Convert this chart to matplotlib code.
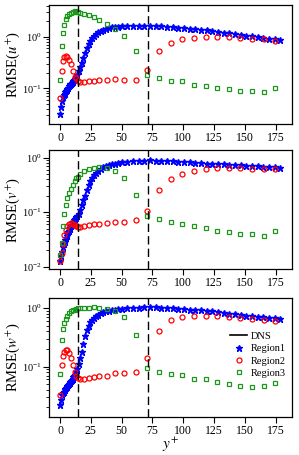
import matplotlib
matplotlib.use("Agg")
import matplotlib.pyplot as plt

plt.rcParams["font.family"] = ["Liberation Serif", "DejaVu Serif"]
plt.rcParams["mathtext.fontset"] = "stix"

# --- data ---
star_y = [0, 0.8, 1.6, 2.4, 3.0, 3.6, 4.2, 4.8, 5.4, 6.0, 6.6, 7.2, 7.8, 8.4, 9.0, 9.6,
          10.2, 10.8, 11.4, 12.0, 12.6, 13.3, 14.0, 15.0, 16.2, 17.5, 18.9, 20.3, 21.7,
          23.1, 24.5, 26.0, 27.6, 29.3, 31.1, 33.0, 35.0, 37.2, 39.5, 42.0, 44.6, 47.3,
          50.1, 54.6, 59.2, 63.8, 68.4, 73.0, 77.6, 82.2, 86.8, 91.4, 96.0, 100.6, 105.2,
          109.8, 114.4, 119.0, 123.6, 128.2, 132.8, 137.4, 142.0, 146.6, 151.2, 155.8,
          160.4, 165.0, 169.6, 174.2, 178.8]
region_y = [0, 1.4, 2.4, 3.4, 4.7, 6.0, 7.4, 8.8, 10.3, 11.8, 13.3, 14.8, 16.3, 19.5,
            23.4, 27.2, 32.0, 37.8, 44.4, 52.0, 61.5, 70.9, 80.4, 89.8, 99.3, 108.7,
            118.2, 127.6, 137.1, 146.5, 156.0, 165.4, 174.9]

u_region1 = [0.032, 0.044, 0.057, 0.067, 0.074, 0.079, 0.084, 0.089, 0.094, 0.099,
             0.104, 0.109, 0.114, 0.119, 0.124, 0.129, 0.134, 0.139, 0.144, 0.150,
             0.157, 0.166, 0.180, 0.215, 0.26, 0.31, 0.38, 0.48, 0.60, 0.72,
             0.84, 0.95, 1.05, 1.14, 1.22, 1.29, 1.35, 1.41, 1.46, 1.51, 1.54, 1.57, 1.59,
             1.60, 1.61, 1.62, 1.62, 1.61, 1.60, 1.58, 1.56, 1.53, 1.50,
             1.47, 1.44, 1.40, 1.36, 1.32, 1.28, 1.24, 1.20, 1.16, 1.12,
             1.08, 1.05, 1.01, 0.98, 0.95, 0.92, 0.90, 0.88]
u_region2 = [0.064, 0.22, 0.34, 0.40, 0.42, 0.40, 0.36, 0.30, 0.22, 0.165, 0.16, 0.14,
             0.135, 0.135, 0.138, 0.14, 0.143, 0.143, 0.15, 0.145, 0.145, 0.23, 0.53,
             0.74, 0.89, 0.96, 1.0, 1.0, 0.97, 0.94, 0.91, 0.89, 0.84]
u_region3 = [0.145, 0.67, 1.19, 1.68, 2.2, 2.55, 2.8, 2.9, 3.0, 3.1, 3.05, 2.95, 2.9,
             2.8, 2.6, 2.4, 2.07, 1.76, 1.41, 1.03, 0.52, 0.18, 0.16, 0.14, 0.137,
             0.118, 0.113, 0.10, 0.097, 0.089, 0.089, 0.087, 0.10]

v_region1 = [0.013, 0.016, 0.019, 0.023, 0.026, 0.029, 0.031, 0.034, 0.037, 0.040,
             0.043, 0.046, 0.049, 0.052, 0.056, 0.059, 0.063, 0.067, 0.071, 0.075,
             0.078, 0.081, 0.084, 0.092, 0.110, 0.135, 0.165, 0.20, 0.25, 0.31,
             0.37, 0.42, 0.48, 0.53, 0.58, 0.63, 0.67, 0.70, 0.73, 0.76, 0.78, 0.80, 0.82,
             0.84, 0.85, 0.86, 0.88, 0.89, 0.88, 0.87, 0.86, 0.85, 0.84,
             0.83, 0.82, 0.81, 0.80, 0.78, 0.77, 0.76, 0.75, 0.74, 0.73,
             0.72, 0.71, 0.70, 0.69, 0.68, 0.67, 0.66, 0.65]
v_region2 = [0.0125, 0.018, 0.026, 0.038, 0.048, 0.056, 0.061, 0.063, 0.062, 0.059,
             0.055, 0.054, 0.054, 0.056, 0.058, 0.060, 0.062, 0.063, 0.067, 0.066,
             0.071, 0.107, 0.25, 0.41, 0.51, 0.58, 0.63, 0.64, 0.64, 0.64, 0.63,
             0.62, 0.61]
v_region3 = [0.0165, 0.027, 0.055, 0.094, 0.137, 0.18, 0.225, 0.27, 0.32, 0.37, 0.42,
             0.45, 0.50, 0.57, 0.63, 0.65, 0.68, 0.64, 0.57, 0.43, 0.21, 0.086, 0.076,
             0.066, 0.060, 0.055, 0.051, 0.046, 0.043, 0.040, 0.040, 0.037, 0.046]

w_region1 = [0.022, 0.027, 0.032, 0.035, 0.037, 0.039, 0.041, 0.043, 0.045, 0.047,
             0.049, 0.051, 0.053, 0.055, 0.057, 0.059, 0.062, 0.065, 0.068, 0.071,
             0.074, 0.080, 0.092, 0.11, 0.14, 0.18, 0.24, 0.33, 0.42, 0.50,
             0.57, 0.63, 0.68, 0.73, 0.78, 0.82, 0.85, 0.88, 0.90, 0.92, 0.94, 0.96, 0.97,
             0.99, 1.01, 1.02, 1.04, 1.04, 1.03, 1.02, 1.01, 0.99, 0.98,
             0.96, 0.95, 0.93, 0.92, 0.90, 0.88, 0.86, 0.84, 0.81, 0.79,
             0.77, 0.75, 0.73, 0.71, 0.70, 0.68, 0.67, 0.66]
w_region2 = [0.032, 0.107, 0.15, 0.18, 0.19, 0.19, 0.17, 0.14, 0.108, 0.08, 0.070,
             0.063, 0.062, 0.062, 0.064, 0.066, 0.068, 0.070, 0.077, 0.078, 0.079,
             0.138, 0.40, 0.62, 0.72, 0.75, 0.75, 0.73, 0.70, 0.68, 0.66, 0.64, 0.60]
w_region3 = [0.073, 0.28, 0.44, 0.56, 0.66, 0.75, 0.82, 0.88, 0.93, 0.95, 0.97, 0.99,
             1.0, 1.01, 1.01, 1.03, 1.01, 0.97, 0.90, 0.70, 0.35, 0.095, 0.082, 0.073,
             0.071, 0.062, 0.060, 0.054, 0.051, 0.047, 0.045, 0.047, 0.052]

region_bounds = [14.5, 71.0]
x_ticks = [0, 25, 50, 75, 100, 125, 150, 175]

panels = [
    ("RMSE($u^{+}$)", u_region1, u_region2, u_region3, (0.0205, 4.1), [0.7275, 0.2615]),
    ("RMSE($v^{+}$)", v_region1, v_region2, v_region3, (0.0091, 1.38), [0.4088, 0.2615]),
    ("RMSE($w^{+}$)", w_region1, w_region2, w_region3, (0.0136, 1.51), [0.0835, 0.262]),
]

fig = plt.figure(figsize=(2.99, 4.55), dpi=100)
for i, (ylab, r1, r2, r3, ylim, (bottom, height)) in enumerate(panels):
    ax = fig.add_axes([0.164, bottom, 0.813, height])
    ax.plot([], [], "k-", lw=1.2, label="DNS")
    ax.plot(star_y, r1, ls="none", marker="*", ms=5, color="blue", mec="blue",
            label="Region1")
    ax.plot(region_y, r2, ls="none", marker="o", ms=3.6, mfc="none", mec="red",
            mew=0.9, label="Region2")
    ax.plot(region_y, r3, ls="none", marker="s", ms=2.8, mfc="none", mec="#1c961c",
            mew=0.9, label="Region3")
    for xb in region_bounds:
        ax.axvline(xb, color="black", lw=1.0, dashes=(6, 3))
    ax.set_yscale("log")
    ax.set_ylim(*ylim)
    ax.set_xlim(-9, 188.5)
    ax.set_xticks(x_ticks)
    ax.tick_params(axis="both", which="major", length=4, width=0.8, pad=1.5)
    ax.tick_params(axis="x", labelsize=8.5)
    ax.tick_params(axis="y", labelsize=7.5, pad=1)
    ax.tick_params(axis="y", which="minor", length=2.2, width=0.6)
    ax.set_ylabel(ylab, fontsize=10.5)
    ax.yaxis.set_label_coords(-0.11, 0.5)
    for s in ax.spines.values():
        s.set_linewidth(0.9)
    if i == 2:
        ax.set_xlabel("$y^{+}$", fontsize=11, labelpad=-1)
        ax.legend(loc="upper left", bbox_to_anchor=(0.72, 0.77), frameon=False,
                  fontsize=7.5, handlelength=1.6, handletextpad=0.4,
                  labelspacing=0.3, borderpad=0.1)

fig.savefig("out.png", dpi=100)
